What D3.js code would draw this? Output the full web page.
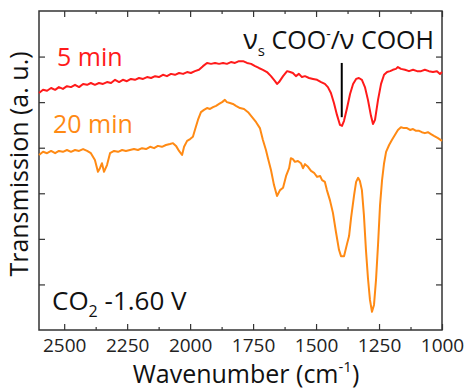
<!DOCTYPE html>
<html><head><meta charset="utf-8">
<script src="https://cdn.jsdelivr.net/npm/d3@7"></script>
<style>body{margin:0;background:#fff}svg{display:block}text{font-family:"Open Sans",sans-serif}</style>
</head><body><svg id="c" width="466" height="391"></svg>
<script>
// wavenumber (cm^-1) and transmission (a.u.)
const wn5 = [2600,2584,2568,2552,2536,2521,2505,2489,2473,2457,2441,2425,2409,2394,2378,2362,2346,2330,2314,2298,2282,2267,2251,2235,2219,2203,2187,2171,2155,2139,2124,2108,2092,2076,2060,2044,2028,2012,1997,1981,1965,1949,1933,1917,1901,1885,1869,1854,1838,1822,1806,1790,1774,1758,1742,1727,1711,1695,1679,1663,1655,1647,1631,1615,1603,1592,1580,1568,1556,1544,1528,1512,1496,1480,1465,1453,1441,1429,1417,1405,1397,1389,1377,1365,1353,1341,1330,1318,1306,1294,1282,1274,1266,1254,1242,1230,1218,1206,1195,1183,1175,1163,1147,1131,1115,1099,1083,1068,1052,1036,1020,1008,1000];
const t5 = [5.20,5.27,5.25,5.31,5.27,5.33,5.29,5.35,5.33,5.38,5.33,5.40,5.38,5.42,5.38,5.42,5.40,5.44,5.42,5.49,5.44,5.49,5.46,5.51,5.49,5.53,5.51,5.55,5.53,5.57,5.55,5.60,5.57,5.62,5.60,5.64,5.62,5.66,5.64,5.68,5.71,5.79,5.86,5.84,5.86,5.84,5.86,5.84,5.88,5.86,5.90,5.90,5.86,5.84,5.79,5.75,5.71,5.66,5.57,5.46,5.40,5.44,5.57,5.68,5.66,5.64,5.57,5.62,5.55,5.57,5.53,5.51,5.49,5.44,5.40,5.33,5.20,4.98,4.72,4.50,4.48,4.59,4.87,5.18,5.40,5.51,5.53,5.49,5.33,5.05,4.70,4.52,4.61,5.05,5.40,5.60,5.66,5.68,5.71,5.73,5.77,5.73,5.71,5.68,5.71,5.68,5.68,5.71,5.68,5.66,5.68,5.62,5.66];
const wn20 = [2600,2584,2568,2552,2536,2521,2505,2489,2473,2457,2441,2425,2409,2394,2378,2366,2358,2350,2342,2330,2318,2302,2286,2270,2255,2239,2223,2207,2191,2175,2159,2143,2128,2112,2096,2080,2068,2056,2044,2032,2024,2012,2000,1989,1981,1969,1957,1945,1933,1921,1909,1897,1885,1873,1862,1854,1842,1830,1818,1802,1786,1770,1754,1738,1723,1711,1699,1691,1679,1667,1655,1643,1631,1619,1607,1600,1592,1584,1572,1560,1552,1544,1532,1520,1508,1496,1484,1476,1465,1457,1445,1433,1421,1409,1401,1389,1377,1369,1361,1349,1341,1333,1326,1318,1310,1302,1294,1286,1278,1270,1262,1254,1246,1238,1230,1222,1210,1199,1187,1175,1163,1151,1139,1127,1115,1103,1091,1080,1068,1056,1044,1032,1016,1000];
const t20 = [3.84,3.91,3.88,3.93,3.88,3.93,3.91,3.95,3.91,3.95,3.93,3.97,3.93,3.88,3.73,3.47,3.55,3.66,3.47,3.62,3.88,3.93,3.91,3.95,3.93,3.95,3.97,3.95,3.99,3.97,4.02,3.99,4.04,4.02,4.06,4.08,4.10,4.04,3.93,3.84,4.02,4.15,4.19,4.24,4.39,4.61,4.78,4.83,4.87,4.85,4.89,4.92,4.96,5.00,5.05,5.00,4.98,4.96,4.92,4.87,4.85,4.78,4.67,4.56,4.43,4.17,3.95,3.77,3.51,3.18,2.94,3.07,3.12,3.38,3.55,3.77,3.75,3.69,3.71,3.66,3.55,3.64,3.58,3.49,3.45,3.36,3.38,3.29,3.25,3.07,2.85,2.57,2.15,1.76,1.62,1.62,1.89,2.06,2.46,2.96,3.25,3.34,3.27,3.07,2.52,1.76,1.14,0.66,0.40,0.55,1.10,1.87,2.74,3.29,3.66,3.91,4.06,4.17,4.28,4.39,4.45,4.43,4.43,4.39,4.41,4.37,4.37,4.34,4.32,4.34,4.30,4.26,4.21,4.15];
const xTicks = [2500,2250,2000,1750,1500,1250,1000];
const xMinor = [2375,2125,1875,1625,1375,1125];
const yTicks = [1,2,3,4,5,6];
const marker = {wn:1398, top:5.86, bottom:4.67};

const svg = d3.select("#c");
const m = {l:39, t:11, r:442, b:330};
const x = d3.scaleLinear().domain([2600,1000]).range([m.l, m.r]);
const y = d3.scaleLinear().domain([0,7]).range([m.b, m.t]);
const ink = "#333";

// axes (ticks inward)
const gBottom = svg.append("g").attr("transform",`translate(0,${m.b})`)
  .call(d3.axisBottom(x).tickValues(xTicks).tickFormat(d3.format("d")).tickSizeInner(-6).tickSizeOuter(0).tickPadding(9));
gBottom.selectAll(".tick text").attr("font-size",19).attr("fill","#222").attr("font-family","Open Sans");
const gBMin = svg.append("g").attr("transform",`translate(0,${m.b})`)
  .call(d3.axisBottom(x).tickValues(xMinor).tickSizeInner(-3).tickSizeOuter(0).tickFormat(""));
const gTop = svg.append("g").attr("transform",`translate(0,${m.t})`)
  .call(d3.axisTop(x).tickValues(xTicks).tickSizeInner(-6).tickSizeOuter(0).tickFormat(""));
const gTMin = svg.append("g").attr("transform",`translate(0,${m.t})`)
  .call(d3.axisTop(x).tickValues(xMinor).tickSizeInner(-3).tickSizeOuter(0).tickFormat(""));
const gLeft = svg.append("g").attr("transform",`translate(${m.l},0)`)
  .call(d3.axisLeft(y).tickValues(yTicks).tickSizeInner(-6).tickSizeOuter(0).tickFormat(""));
const gRight = svg.append("g").attr("transform",`translate(${m.r},0)`)
  .call(d3.axisRight(y).tickValues(yTicks).tickSizeInner(-6).tickSizeOuter(0).tickFormat(""));
[gBottom,gBMin,gTop,gTMin,gLeft,gRight].forEach(g=>{
  g.select(".domain").remove();
  g.selectAll(".tick line").attr("stroke",ink).attr("stroke-width",1.2);
});
svg.append("rect").attr("x",m.l).attr("y",m.t).attr("width",m.r-m.l).attr("height",m.b-m.t)
  .attr("fill","none").attr("stroke",ink).attr("stroke-width",1.5);

// curves
const line = d3.line().x(d=>x(d[0])).y(d=>y(d[1]));
svg.append("path").datum(d3.zip(wn20,t20)).attr("d",line)
  .attr("fill","none").attr("stroke","#ff8a14").attr("stroke-width",2).attr("stroke-linejoin","round");
svg.append("path").datum(d3.zip(wn5,t5)).attr("d",line)
  .attr("fill","none").attr("stroke","#ff1a1a").attr("stroke-width",2).attr("stroke-linejoin","round");

// marker
svg.append("line").attr("x1",x(marker.wn)).attr("x2",x(marker.wn))
  .attr("y1",y(marker.top)).attr("y2",y(marker.bottom)).attr("stroke","#000").attr("stroke-width",2);

// labels
svg.append("text").attr("x",57).attr("y",66).attr("font-size",25).attr("fill","#ff1a1a").text("5 min");
svg.append("text").attr("x",53).attr("y",133).attr("font-size",25).attr("fill","#ff8a14").text("20 min");

const ann = svg.append("text").attr("x",434).attr("y",49).attr("font-size",25).attr("fill","#111").attr("text-anchor","end");
ann.append("tspan").attr("font-size",27).text("ν");
ann.append("tspan").attr("font-size",15).attr("dy",7).text("s");
ann.append("tspan").attr("dy",-7).text(" COO");
ann.append("tspan").attr("font-size",14).attr("dy",-10).text("-");
ann.append("tspan").attr("dy",10).text("/");
ann.append("tspan").attr("font-size",27).text("ν");
ann.append("tspan").text(" COOH");

const co = svg.append("text").attr("x",52).attr("y",310).attr("font-size",26).attr("fill","#111");
co.append("tspan").text("CO");
co.append("tspan").attr("font-size",16).attr("dy",7).text("2");
co.append("tspan").attr("dy",-7).text(" -1.60 V");

const xl = svg.append("text").attr("x",246).attr("y",383).attr("font-size",25).attr("fill","#111").attr("text-anchor","middle");
xl.append("tspan").text("Wavenumber (cm");
xl.append("tspan").attr("font-size",15).attr("dy",-11).text("-1");
xl.append("tspan").attr("dy",11).text(")");

svg.append("text").attr("transform","translate(28,164) rotate(-90)").attr("font-size",25)
  .attr("fill","#111").attr("text-anchor","middle").text("Transmission (a. u.)");
</script></body></html>
